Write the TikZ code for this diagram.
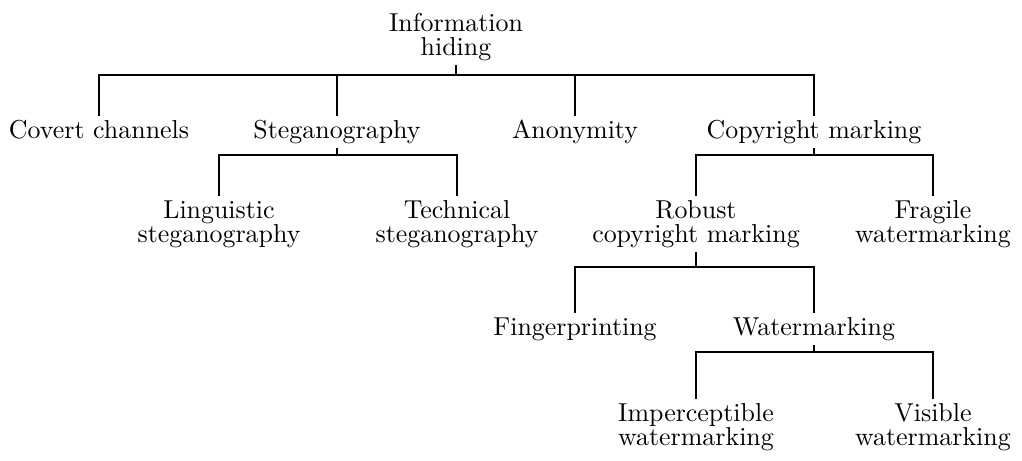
\documentclass[tikz,border=0pt]{standalone}
\usetikzlibrary{positioning}
\begin{document}
\begin{tikzpicture}[
    x=0.386pt, y=-0.386pt,
    topic/.style={anchor=north, align=center, inner sep=1.5pt, font=\fontsize{10}{9.3}\selectfont},
    branch/.style={line width=0.6pt}
]
    \useasboundingbox (0,0) rectangle (1022,461);

    % nodes, placed by the top end of their line
    \node[topic] at (456,9)   (hiding) {Information\\hiding};
    \node[topic] at (99,116)  (covert) {Covert channels};
    \node[topic] at (337,116) (stego) {Steganography};
    \node[topic] at (575,116) (anon) {Anonymity};
    \node[topic] at (814,116) (copy) {Copyright marking};
    \node[topic] at (219,196) (ling) {Linguistic\\steganography};
    \node[topic] at (457,196) (tech) {Technical\\steganography};
    \node[topic] at (696,196) (robust) {Robust\\copyright marking};
    \node[topic] at (933,196) (fragile) {Fragile\\watermarking};
    \node[topic] at (575,313) (finger) {Fingerprinting};
    \node[topic] at (814,313) (water) {Watermarking};
    \node[topic] at (696,399) (imper) {Imperceptible\\watermarking};
    \node[topic] at (933,399) (visible) {Visible\\watermarking};

    % junctions of the bars
    \coordinate (j1) at (456,75);
    \coordinate (j2) at (337,155);
    \coordinate (j3) at (814,155);
    \coordinate (j4) at (696,267);
    \coordinate (j5) at (814,352);

    \draw[branch] (hiding.south) -- (j1);
    \draw[branch] (covert.north) |- (j1);
    \draw[branch] (stego.north) |- (j1);
    \draw[branch] (anon.north) |- (j1);
    \draw[branch] (copy.north) |- (j1);

    \draw[branch] (stego.south) -- (j2);
    \draw[branch] (ling.north) |- (j2);
    \draw[branch] (tech.north) |- (j2);

    \draw[branch] (copy.south) -- (j3);
    \draw[branch] (robust.north) |- (j3);
    \draw[branch] (fragile.north) |- (j3);

    \draw[branch] (robust.south) -- (j4);
    \draw[branch] (finger.north) |- (j4);
    \draw[branch] (water.north) |- (j4);

    \draw[branch] (water.south) -- (j5);
    \draw[branch] (imper.north) |- (j5);
    \draw[branch] (visible.north) |- (j5);
\end{tikzpicture}
\end{document}
